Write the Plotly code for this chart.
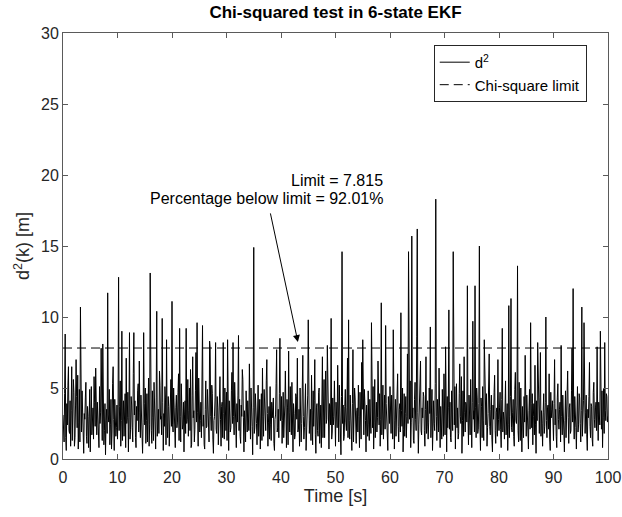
import numpy as np
import plotly.graph_objects as go

# d^2 samples, 0.1 s spacing (one list per 10 s)
d2_000_010 = [3.1,2.2,1.2,4.6,8.8,1.5,0.6,3.9,2.4,5.2,6.5,2.0,1.8,4.1,0.9,3.4,6.5,1.3,3.3,5.6,
              4.7,0.9,1.5,3.8,7.0,4.4,2.2,5.9,0.7,2.6,4.9,1.2,10.7,3.0,1.9,4.8,3.6,2.1,0.4,3.2,
              2.8,4.3,5.4,1.6,1.1,3.7,3.0,0.8,2.1,4.9,0.5,2.9,5.1,1.7,2.7,3.6,1.4,5.8,4.0,2.3,
              6.4,2.5,1.7,4.0,3.2,1.4,0.8,5.1,2.5,3.3,7.8,2.2,1.3,8.1,4.4,1.0,2.0,3.9,0.3,2.7,
              3.5,1.8,11.7,3.1,2.6,4.9,1.0,2.4,4.2,0.7,1.9,5.3,6.5,2.8,0.6,4.2,3.3,1.6,2.2,3.8]
d2_010_020 = [1.4,3.6,12.8,2.0,3.7,5.5,0.9,2.7,9.0,1.3,2.3,4.1,1.6,3.4,4.6,0.8,7.1,2.5,2.9,4.7,
              0.5,2.9,8.9,1.4,2.1,4.4,3.8,2.2,1.2,6.0,8.9,3.1,4.1,1.5,0.8,3.7,2.7,4.8,5.3,1.9,
              6.9,3.3,1.5,4.5,3.0,1.8,0.4,2.6,8.9,3.9,2.4,5.0,1.1,2.7,4.6,1.2,3.2,5.7,0.9,2.4,
              13.1,3.8,2.0,1.1,4.8,2.9,1.3,5.4,3.5,2.0,0.7,4.3,10.4,1.6,2.6,3.5,1.8,6.2,5.2,2.8,
              3.0,1.7,9.9,4.0,0.6,3.2,2.3,5.1,4.3,1.0,8.4,2.6,1.5,4.4,3.7,0.9,2.0,3.6,5.6,2.3]
d2_020_030 = [11.1,2.4,1.9,5.0,3.3,1.5,0.8,3.6,4.5,2.2,2.6,4.7,6.0,1.3,9.2,3.0,1.2,5.3,3.9,2.1,
              2.4,4.0,0.5,3.1,4.1,1.8,9.2,2.5,2.8,5.6,1.6,3.4,5.0,2.0,6.3,0.8,1.0,4.5,7.2,2.9,
              3.4,1.2,2.1,4.8,7.5,2.6,9.6,3.3,0.9,5.7,4.4,1.9,2.7,4.0,1.5,6.1,9.4,2.3,3.1,1.0,
              0.7,3.5,5.5,2.2,2.3,4.9,3.8,1.6,1.2,8.3,7.8,3.0,2.0,5.2,4.6,1.4,0.4,2.7,3.0,4.3,
              8.2,2.1,1.8,4.4,3.6,1.0,2.5,3.9,5.8,2.8,0.9,3.7,4.0,1.5,8.2,3.2,1.4,5.0,2.9,2.0]
d2_030_040 = [4.7,1.3,8.4,2.6,0.6,4.1,3.2,1.9,2.2,4.8,6.1,2.5,8.2,3.0,1.7,5.4,3.5,2.2,0.8,3.9,
              2.6,4.5,8.7,2.0,4.2,1.6,1.1,3.8,3.0,6.3,5.6,2.9,0.5,3.4,2.4,1.2,4.8,2.7,1.9,4.1,
              3.3,2.0,6.7,3.1,1.4,5.0,4.1,2.3,0.3,3.6,14.9,1.8,2.2,4.6,3.9,2.5,1.0,3.3,5.2,1.6,
              2.8,4.2,0.7,2.9,4.6,1.3,6.4,3.0,1.6,4.9,3.4,2.1,2.0,5.5,7.0,3.2,0.9,2.6,3.7,1.4,
              5.1,2.4,1.3,4.0,2.9,3.6,4.3,1.1,0.6,2.8,3.1,5.3,7.7,1.9,2.2,3.5,1.5,4.6,8.5,2.7]
d2_040_050 = [3.0,4.4,1.1,2.7,4.7,1.5,2.4,3.8,6.2,2.1,0.8,4.2,3.6,1.0,7.6,3.3,1.9,5.1,2.7,1.7,
              5.4,2.3,0.5,3.9,3.2,1.4,1.7,4.6,4.4,2.8,7.1,1.9,2.1,3.5,0.9,5.0,3.8,1.2,2.5,4.1,
              7.3,3.0,1.4,2.2,4.0,5.3,0.6,2.6,2.9,4.5,9.8,3.2,1.8,2.7,3.5,1.3,5.9,3.4,1.0,4.8,
              2.3,4.1,7.0,1.7,0.4,3.6,3.9,2.0,1.6,4.7,5.0,1.1,2.6,3.8,0.8,2.9,7.2,1.5,3.3,5.6,
              1.5,3.2,6.2,2.5,2.8,8.0,4.1,1.8,0.7,3.9,3.7,2.4,9.9,1.4,1.9,4.3,2.4,3.0,5.5,2.1]
d2_050_060 = [0.9,4.0,3.4,2.2,6.6,3.1,1.2,5.2,2.7,1.9,0.3,4.4,14.6,2.5,3.8,1.3,1.6,3.7,4.9,2.6,
              2.0,3.6,7.1,1.5,9.8,2.7,1.4,4.5,3.2,2.0,0.6,3.9,7.7,1.2,2.5,5.0,4.3,2.3,1.1,3.4,
              3.6,1.9,5.2,3.0,0.8,4.7,2.9,1.4,6.8,3.5,8.4,2.2,1.7,4.9,4.0,2.7,0.5,3.8,2.6,1.6,
              4.8,2.4,1.3,4.2,3.1,1.8,9.6,3.3,2.2,5.1,0.7,2.6,5.6,1.5,3.5,4.0,1.9,2.9,6.9,3.7,
              2.4,4.6,0.9,2.8,11.0,1.7,3.7,5.2,1.4,3.0,4.5,2.1,9.4,3.9,2.0,1.3,0.6,4.4,3.3,2.5]
d2_060_070 = [5.1,2.2,1.8,4.5,3.0,1.4,9.1,3.1,0.7,2.7,4.2,1.6,2.6,4.8,6.0,2.3,1.2,3.5,3.9,1.9,
              10.3,3.4,2.3,5.0,0.5,2.1,4.6,1.6,3.2,4.4,1.5,3.0,7.4,2.5,14.6,3.9,2.8,5.5,0.8,2.6,
              15.7,2.9,3.6,1.3,1.1,4.2,5.4,2.8,2.0,8.6,16.2,3.3,0.4,2.4,3.8,5.1,6.9,2.0,1.7,3.6,
              2.9,4.7,4.4,2.0,0.9,3.5,7.2,1.8,2.3,4.1,1.4,2.6,5.0,3.2,9.3,1.5,3.1,4.9,0.6,2.3,
              4.1,2.5,2.0,5.3,18.3,3.0,1.3,4.2,3.5,1.9,6.4,2.8,0.8,3.7,2.7,1.4,4.9,3.0,1.6,6.0]
d2_070_080 = [3.3,1.7,7.9,2.9,0.5,4.4,2.2,3.6,10.5,2.1,4.0,1.5,1.2,4.8,3.1,2.0,14.6,3.4,2.4,5.1,
              0.7,3.8,5.3,2.2,3.6,1.4,1.8,4.6,6.7,3.0,2.5,5.8,0.4,2.7,4.8,1.6,7.2,3.3,1.9,4.0,
              3.8,2.6,12.2,3.1,1.0,4.5,2.9,1.7,5.6,2.3,0.8,4.0,9.7,2.8,3.4,1.9,12.2,3.6,1.5,5.0,
              4.3,1.8,2.1,3.9,15.0,2.4,0.6,4.3,3.7,1.5,5.1,2.7,1.3,8.4,6.3,3.0,2.4,4.6,0.9,2.2,
              3.2,4.9,7.4,2.3,1.7,3.5,4.5,1.4,0.5,3.8,2.8,4.7,5.9,2.0,1.1,3.3,3.6,1.6,7.0,2.8]
d2_080_090 = [2.0,3.6,4.7,2.1,0.8,4.2,9.2,1.9,3.3,2.8,1.4,4.6,5.5,1.7,2.6,3.9,0.6,2.4,10.8,1.5,
              3.0,4.4,11.3,2.2,1.9,3.3,4.2,1.6,0.9,4.9,6.1,2.7,2.5,3.8,13.6,2.0,1.2,5.4,3.7,1.3,
              5.0,2.3,0.5,3.7,2.8,1.5,4.4,2.6,7.3,3.2,1.6,4.5,3.1,1.9,0.7,3.4,4.9,2.1,9.6,3.9,
              2.2,4.6,1.0,3.0,3.9,1.7,6.6,2.4,0.4,4.1,2.7,8.2,5.2,2.9,1.8,4.3,7.5,1.6,3.4,2.5,
              0.9,3.3,4.6,1.8,2.3,4.0,10.0,2.7,1.5,3.6,3.8,2.1,6.0,1.4,0.6,4.7,2.9,3.5,4.1,2.2]
d2_090_100 = [1.3,3.9,7.0,2.4,3.5,1.6,0.8,4.3,5.3,2.8,2.1,3.5,4.0,1.2,8.0,3.0,1.7,4.5,3.2,2.0,
              0.5,2.7,4.8,1.5,2.6,4.2,6.2,2.9,1.1,3.6,3.9,1.8,2.0,4.8,7.8,2.6,12.0,3.1,1.4,4.4,
              3.6,2.2,0.7,3.8,5.1,1.9,2.4,4.6,4.3,2.5,1.2,3.4,10.7,1.6,3.0,4.1,9.6,2.7,1.8,3.3,
              4.5,1.7,0.6,3.5,2.9,4.4,6.8,2.3,1.5,3.9,3.7,1.4,0.9,4.7,5.4,2.8,2.2,3.6,4.0,2.0,
              7.9,3.1,1.3,4.0,3.4,2.4,9.0,3.7,2.1,4.8,0.8,2.9,5.0,1.8,8.2,3.4,2.7,4.6,4.4,2.6,
              3.0]

chi_limit = 7.815
pct_below = 92.01
x_ticks = [0, 10, 20, 30, 40, 50, 60, 70, 80, 90, 100]
y_ticks = [0, 5, 10, 15, 20, 25, 30]

d2 = (d2_000_010 + d2_010_020 + d2_020_030 + d2_030_040 + d2_040_050 +
      d2_050_060 + d2_060_070 + d2_070_080 + d2_080_090 + d2_090_100)
t = np.round(np.arange(len(d2)) * 0.1, 2)

FONT = "Liberation Sans, Arial, Helvetica, sans-serif"
AX = "#5a5a5a"

fig = go.Figure()
fig.add_trace(go.Scatter(x=t, y=d2, mode="lines", name="d<sup>2</sup>",
                         line=dict(color="black", width=1)))
fig.add_trace(go.Scatter(x=[0, 100], y=[chi_limit, chi_limit], mode="lines",
                         name="Chi-square limit",
                         line=dict(color="black", width=1, dash="9px,5px")))

fig.add_annotation(x=59.1, y=19.6, xref="x", yref="y", xanchor="right",
                   text=f"Limit = {chi_limit}", showarrow=False,
                   font=dict(family=FONT, size=16, color="black"))
fig.add_annotation(x=59.1, y=18.35, xref="x", yref="y", xanchor="right",
                   text=f"Percentage below limit = {pct_below}%", showarrow=False,
                   font=dict(family=FONT, size=16, color="black"))
fig.add_annotation(x=43.1, y=8.24, xref="x", yref="y",
                   ax=38.0, ay=17.4, axref="x", ayref="y",
                   text="", showarrow=True, arrowhead=2, arrowsize=1.4,
                   arrowwidth=1, arrowcolor="black", standoff=0, startstandoff=0)

axis_common = dict(showline=True, linecolor=AX, linewidth=1, mirror="ticks",
                   ticks="inside", ticklen=5, tickcolor=AX, showgrid=False,
                   zeroline=False, automargin=False,
                   tickfont=dict(family=FONT, size=16, color="#262626"))

fig.update_layout(
    width=622, height=517,
    margin=dict(l=63, r=14, t=33, b=58),
    plot_bgcolor="white", paper_bgcolor="white",
    title=dict(text="<b>Chi-squared test in 6-state EKF</b>", x=0.5, xref="paper",
               y=0.977, yref="container", yanchor="middle",
               font=dict(family=FONT, size=17, color="black")),
    xaxis=dict(range=[0, 100], tickvals=x_ticks, ticklabelstandoff=4,
               title=dict(text="Time [s]", standoff=4,
                          font=dict(family=FONT, size=18, color="#262626")),
               **axis_common),
    yaxis=dict(range=[0, 30], tickvals=y_ticks,
               title=dict(text="d<sup>2</sup>(k) [m]", standoff=6,
                          font=dict(family=FONT, size=18, color="#262626")),
               **axis_common),
    legend=dict(x=0.961, y=0.972, xanchor="right", yanchor="top",
                bordercolor="#262626", borderwidth=1, bgcolor="white",
                font=dict(family=FONT, size=15, color="black"),
                itemwidth=30, tracegroupgap=0),
    showlegend=True,
)
fig.write_html("out.html")
